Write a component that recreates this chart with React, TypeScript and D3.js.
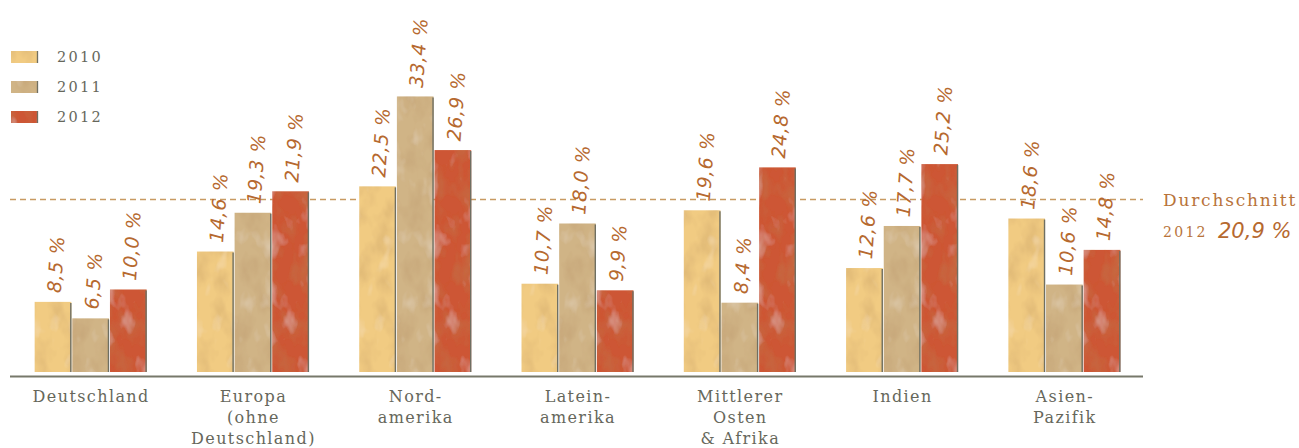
import React from "react";
import * as d3 from "d3";

// Regions along the x axis (each entry is the label split into lines)
const categories: string[][] = [
  ["Deutschland"],
  ["Europa", "(ohne", "Deutschland)"],
  ["Nord-", "amerika"],
  ["Latein-", "amerika"],
  ["Mittlerer", "Osten", "& Afrika"],
  ["Indien"],
  ["Asien-", "Pazifik"],
];

const years = ["2010", "2011", "2012"];

// Growth rates in percent per region
const values2010 = [8.5, 14.6, 22.5, 10.7, 19.6, 12.6, 18.6];
const values2011 = [6.5, 19.3, 33.4, 18.0, 8.4, 17.7, 10.6];
const values2012 = [10.0, 21.9, 26.9, 9.9, 24.8, 25.2, 14.8];

const average2012 = 20.9;

const W = 1299;
const H = 448;

const seriesColors = ["#f1cb82", "#d0b486", "#cd5634"];
const labelColor = "#b6692f";
const greyText = "#66675b";

const fmt = (v: number) => v.toFixed(1).replace(".", ",") + " %";

export default function App() {
  const series = [values2010, values2011, values2012];

  const x0 = d3
    .scaleBand<number>()
    .domain(d3.range(categories.length))
    .range([10, 1146])
    .paddingInner(0.304)
    .paddingOuter(0.152);

  const x1 = d3.scaleBand<number>().domain([0, 1, 2]).range([0, x0.bandwidth()]).padding(0);

  const y = d3.scaleLinear().domain([0, 34]).range([372, 372 - 34 * 8.25]);

  const handFont = "'DejaVu Sans', sans-serif";
  const serifFont = "'DejaVu Serif', serif";

  return (
    <svg
      width={W}
      height={H}
      viewBox={`0 0 ${W} ${H}`}
      style={{ position: "absolute", left: 0, top: 0, background: "#fff" }}
    >
      <defs>
        {/* soft watercolour mottling for the bar fills */}
        <filter id="wash" x="0" y="0" width="1" height="1">
          <feTurbulence type="fractalNoise" baseFrequency="0.06 0.035" numOctaves="3" seed="11" result="noise" />
          <feColorMatrix
            in="noise"
            type="matrix"
            values="0 0 0 0 0.45  0 0 0 0 0.25  0 0 0 0 0.1  0.7 0 0 0 -0.3"
            result="dark"
          />
          <feColorMatrix
            in="noise"
            type="matrix"
            values="0 0 0 0 1  0 0 0 0 0.98  0 0 0 0 0.92  0 -0.7 0 0 0.3"
            result="light"
          />
          <feComposite in="dark" in2="SourceGraphic" operator="in" result="darkIn" />
          <feComposite in="light" in2="SourceGraphic" operator="in" result="lightIn" />
          <feMerge>
            <feMergeNode in="SourceGraphic" />
            <feMergeNode in="darkIn" />
            <feMergeNode in="lightIn" />
          </feMerge>
        </filter>
      </defs>

      {/* legend */}
      {years.map((yr, i) => {
        const ly = 51 + i * 30;
        return (
          <g key={yr}>
            <rect x={11} y={ly} width={26} height={12} fill={seriesColors[i]} filter="url(#wash)" />
            <line x1={37.5} x2={37.5} y1={ly} y2={ly + 12} stroke="#6f6f62" strokeWidth={1.3} />
            <text
              x={57}
              y={ly + 11}
              fontFamily={serifFont}
              fontSize={14.5}
              letterSpacing={2.3}
              fill={greyText}
            >
              {yr}
            </text>
          </g>
        );
      })}

      {/* average line */}
      <line
        x1={10}
        x2={1143}
        y1={y(average2012)}
        y2={y(average2012)}
        stroke="#c89a62"
        strokeWidth={1.5}
        strokeDasharray="6 4"
      />
      <text
        x={1163}
        y={y(average2012) + 6}
        fontFamily={serifFont}
        fontSize={17}
        letterSpacing={1.8}
        fill="#b8733a"
      >
        Durchschnitt
      </text>
      <text x={1163} y={237} fontFamily={serifFont} fontSize={14} letterSpacing={2.3} fill="#b8733a">
        2012
      </text>
      <text
        x={1218}
        y={238}
        fontFamily={handFont}
        fontStyle="italic"
        fontWeight={200}
        fontSize={21}
        letterSpacing={0}
        fill={labelColor}
      >
        {fmt(average2012)}
      </text>

      {/* bars */}
      {categories.map((cat, ci) => {
        const gx = x0(ci) as number;
        return (
          <g key={ci} transform={`translate(${gx},0)`}>
            {series.map((vals, si) => {
              const bx = x1(si) as number;
              const bw = x1.bandwidth() - 1;
              const top = y(vals[ci]);
              const bottom = y(0);
              const cx = bx + bw / 2;
              const ty = top - 9;
              return (
                <g key={si}>
                  <rect
                    x={bx}
                    y={top}
                    width={bw}
                    height={bottom - top}
                    fill={seriesColors[si]}
                    filter="url(#wash)"
                  />
                  <line
                    x1={bx + bw - 0.5}
                    x2={bx + bw - 0.5}
                    y1={top + 1}
                    y2={bottom}
                    stroke="#6f6f62"
                    strokeWidth={1.4}
                  />
                  <text
                    transform={`translate(${cx + 1},${ty}) rotate(-86)`}
                    dy="0.35em"
                    fontFamily={handFont}
                    fontStyle="italic"
                    fontWeight={200}
                    fontSize={19}
                    letterSpacing={0.6}
                    fill={labelColor}
                  >
                    {fmt(vals[ci])}
                  </text>
                </g>
              );
            })}
            {cat.map((line, li) => (
              <text
                key={li}
                x={x0.bandwidth() / 2}
                y={402 + li * 21}
                textAnchor="middle"
                fontFamily={serifFont}
                fontSize={16}
                letterSpacing={1.4}
                fill={greyText}
              >
                {line}
              </text>
            ))}
          </g>
        );
      })}

      {/* baseline */}
      <line x1={10} x2={1143} y1={376.5} y2={376.5} stroke="#77786a" strokeWidth={2} />
    </svg>
  );
}
